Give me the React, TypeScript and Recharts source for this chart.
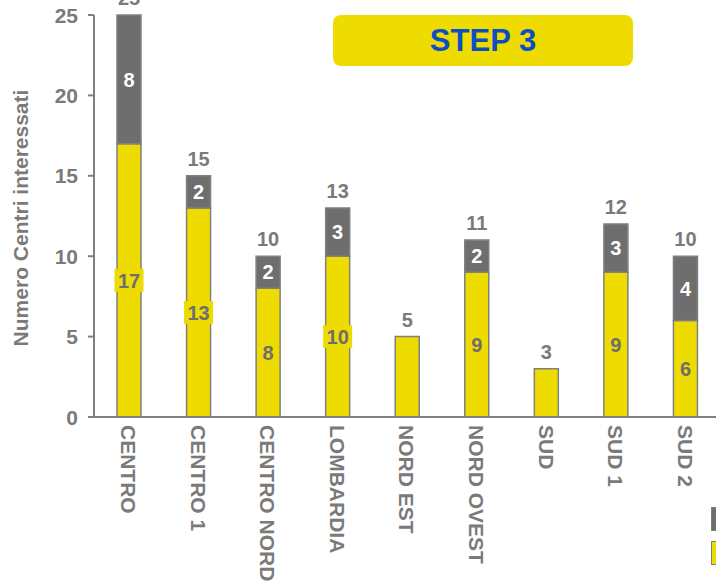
import { BarChart, Bar, XAxis, YAxis, LabelList } from 'recharts'

const categories = ['CENTRO', 'CENTRO 1', 'CENTRO NORD', 'LOMBARDIA', 'NORD EST', 'NORD OVEST', 'SUD', 'SUD 1', 'SUD 2']
const yellowValues = [17, 13, 8, 10, 5, 9, 3, 9, 6]
const grayValues = [8, 2, 2, 3, 0, 2, 0, 3, 4]
const yTicks = [0, 5, 10, 15, 20, 25]

const YELLOW = '#eedc00'
const GRAY = '#6e6e6e'
const TEXT = '#7a7a7a'
const FONT = '"Liberation Sans", Arial, sans-serif'

const data = categories.map((name, i) => ({
  name,
  yellow: yellowValues[i],
  gray: grayValues[i],
  grayLabel: grayValues[i] > 0 ? grayValues[i] : null,
}))

// yellow segment: inner label (only when a gray part exists) + total on top of the stack
const YellowLabel = (props: any) => {
  const { x, y, width, height, index } = props
  const yv = yellowValues[index]
  const gv = grayValues[index]
  const cx = x + width / 2
  const cy = y + height / 2
  const perUnit = height / yv
  const top = y - gv * perUnit
  const w = String(yv).length * 11 + 7
  return (
    <g>
      {gv > 0 && (
        <>
          <rect x={cx - w / 2} y={cy - 11.5} width={w} height={23} fill={YELLOW} />
          <text x={cx} y={cy} dy="0.36em" textAnchor="middle" fill={GRAY} fontSize={20} fontWeight="bold" fontFamily={FONT}>
            {yv}
          </text>
        </>
      )}
      <text x={cx} y={top - 10} textAnchor="middle" fill={TEXT} fontSize={20} fontWeight="bold" fontFamily={FONT}>
        {yv + gv}
      </text>
    </g>
  )
}

const GrayLabel = (props: any) => {
  const { x, y, width, height, value } = props
  if (value == null) return null
  return (
    <text x={x + width / 2} y={y + height / 2} dy="0.36em" textAnchor="middle" fill="#ffffff" fontSize={20} fontWeight="bold" fontFamily={FONT}>
      {value}
    </text>
  )
}

const XTick = (props: any) => {
  const { x, y, payload } = props
  return (
    <text
      x={x}
      y={y}
      transform={`rotate(90 ${x} ${y})`}
      dy="0.36em"
      textAnchor="start"
      fill={TEXT}
      fontSize={21}
      fontWeight="bold"
      fontFamily={FONT}
    >
      {payload.value}
    </text>
  )
}

const YTick = (props: any) => {
  const { y, payload } = props
  return (
    <text x={78} y={y} dy="0.36em" textAnchor="end" fill={TEXT} fontSize={21} fontWeight="bold" fontFamily={FONT}>
      {payload.value}
    </text>
  )
}

const YLabel = () => (
  <text x={20} y={218} transform="rotate(-90 20 218)" dy="0.36em" textAnchor="middle" fill={TEXT} fontSize={21} fontWeight="bold" fontFamily={FONT}>
    Numero Centri interessati
  </text>
)

export default function App() {
  return (
    <div style={{ position: 'absolute', left: 0, top: 0, width: 716, height: 582, overflow: 'hidden', background: '#fff' }}>
      <BarChart width={730} height={582} data={data} margin={{ top: 15, right: 10, bottom: 0, left: 0 }} barSize={24}>
        <XAxis
          dataKey="name"
          height={165}
          interval={0}
          tickLine={false}
          axisLine={{ stroke: '#808080', strokeWidth: 2 }}
          tick={<XTick />}
        />
        <YAxis
          width={94}
          domain={[0, 25]}
          ticks={yTicks}
          interval={0}
          axisLine={{ stroke: '#808080', strokeWidth: 2 }}
          tickLine={{ stroke: '#808080', strokeWidth: 2 }}
          tickSize={6}
          tick={<YTick />}
          label={<YLabel />}
        />
        <Bar dataKey="yellow" stackId="a" fill={YELLOW} stroke="#808080" strokeWidth={1.5} isAnimationActive={false}>
          <LabelList dataKey="yellow" content={<YellowLabel />} />
        </Bar>
        <Bar dataKey="gray" stackId="a" fill={GRAY} stroke="#808080" strokeWidth={1.5} isAnimationActive={false}>
          <LabelList dataKey="grayLabel" content={<GrayLabel />} />
        </Bar>
      </BarChart>
      <div
        style={{
          position: 'absolute',
          left: 333,
          top: 15,
          width: 300,
          height: 51,
          borderRadius: 8,
          background: YELLOW,
          color: '#0d4fc2',
          fontFamily: FONT,
          fontWeight: 'bold',
          fontSize: 31,
          display: 'flex',
          alignItems: 'center',
          justifyContent: 'center',
        }}
      >
        STEP 3
      </div>
      <div style={{ position: 'absolute', left: 711, top: 507, width: 22, height: 22, background: GRAY, border: '1.5px solid #808080' }} />
      <div style={{ position: 'absolute', left: 711, top: 541, width: 22, height: 22, background: YELLOW, border: '1.5px solid #808080' }} />
    </div>
  )
}
